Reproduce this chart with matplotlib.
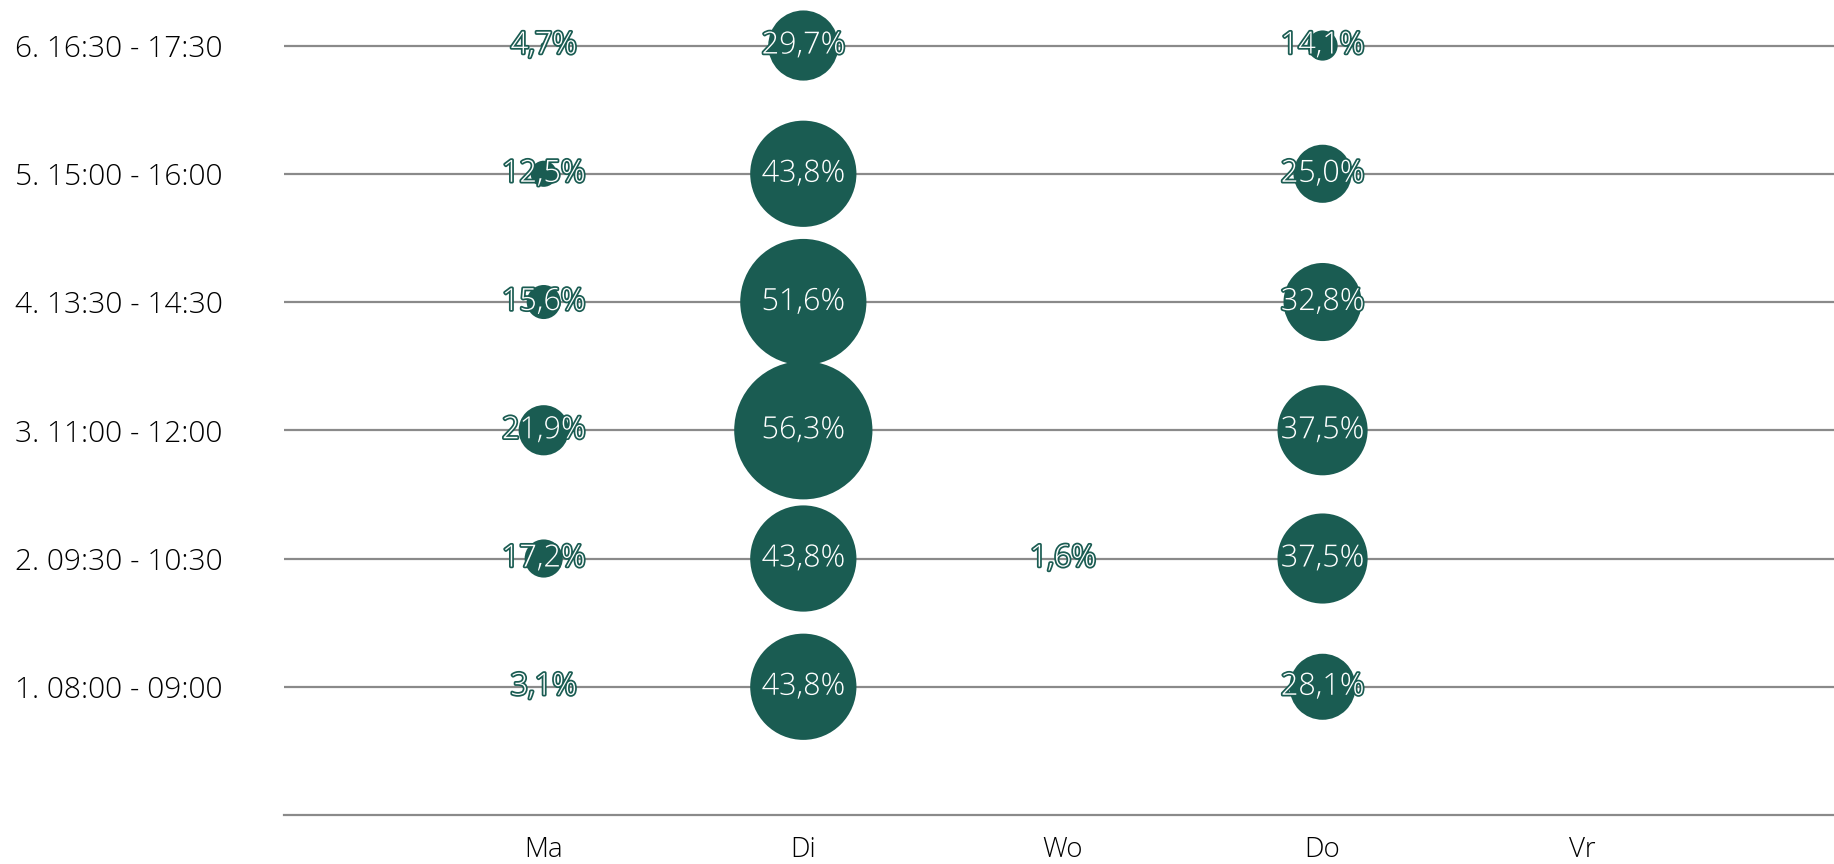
import numpy as np
import matplotlib
matplotlib.use("Agg")
import matplotlib.pyplot as plt
import matplotlib.patheffects as pe

# data
dagen = ["Ma", "Di", "Wo", "Do", "Vr"]
tijdsloten = ["1. 08:00 - 09:00", "2. 09:30 - 10:30", "3. 11:00 - 12:00 ",
              "4. 13:30 - 14:30", "5. 15:00 - 16:00", "6. 16:30 - 17:30"]
# percentages per tijdslot (rij) en dag (kolom), None = geen waarde
ma = [3.1, 17.2, 21.9, 15.6, 12.5, 4.7]
di = [43.8, 43.8, 56.3, 51.6, 43.8, 29.7]
wo = [None, 1.6, None, None, None, None]
do = [28.1, 37.5, 37.5, 32.8, 25.0, 14.1]
vr = [None, None, None, None, None, None]

groen = "#1a5c52"
plt.rcParams['font.family'] = ['Open Sans', 'DejaVu Sans']
plt.rcParams['font.weight'] = 'light'

fig = plt.figure(figsize=(18.34, 8.64), dpi=100)
ax = fig.add_axes([0.1549, 0.0567, 0.8451, 0.9433])

rijen = np.arange(1, len(tijdsloten) + 1)
for r in rijen:
    ax.axhline(r, color="#8a8a8a", lw=1.6, zorder=1)

for k, kolom in enumerate([ma, di, wo, do, vr]):
    x = k + 1
    for r, v in zip(rijen, kolom):
        if v is None:
            continue
        # diameter in pixels, lineair met de waarde
        d_px = max(2.56 * (v - 2.3), 0)
        d_pt = d_px * 0.72
        if d_pt > 0:
            ax.scatter(x, r, s=d_pt ** 2, color=groen, edgecolors="none", zorder=2)
        t = ax.text(x, r, f"{v:.1f}".replace(".", ",") + "%", ha="center", va="center",
                    color="white", fontsize=22, fontweight="light", zorder=3)
        t.set_path_effects([pe.withStroke(linewidth=2.5, foreground=groen)])

ax.set_xlim(0, 5.97)
ax.set_ylim(0, 6.355)
ax.set_xticks(np.arange(1, len(dagen) + 1))
ax.set_xticklabels(dagen, fontsize=20, fontweight="light")
ax.set_yticks(rijen)
ax.set_yticklabels(tijdsloten, fontsize=21.5, fontweight="light")
for lbl in ax.get_yticklabels():
    lbl.set_horizontalalignment("left")
ax.tick_params(axis="y", length=0, pad=194)
ax.tick_params(axis="x", length=0, pad=15)

for s in ["top", "right", "left"]:
    ax.spines[s].set_visible(False)
ax.spines["bottom"].set_color("#8a8a8a")
ax.spines["bottom"].set_linewidth(1.6)

fig.savefig("out.png", dpi=100)
